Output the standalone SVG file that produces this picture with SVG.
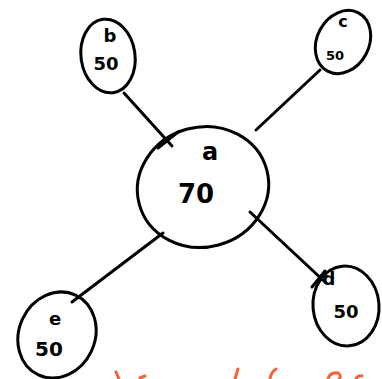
<svg xmlns="http://www.w3.org/2000/svg" width="382" height="379" viewBox="0 0 382 379">
<style>
.n{fill:none;stroke:#000;stroke-width:3;stroke-linecap:round}
.t{font-family:"DejaVu Sans",sans-serif;fill:#000;font-weight:bold;text-anchor:middle}
.o{fill:none;stroke:#f4623a;stroke-width:3;stroke-linecap:round}
</style>
<rect width="382" height="379" fill="#fff"/>
<g id="connectors">
<line class="n" x1="124" y1="93" x2="172" y2="146"/>
<line class="n" x1="320" y1="70" x2="256" y2="130"/>
<line class="n" x1="163" y1="233" x2="72" y2="302"/>
<line class="n" x1="250" y1="212" x2="326" y2="283"/>
<line class="n" x1="158" y1="148" x2="178" y2="132"/>
<line class="n" x1="312" y1="287" x2="325" y2="271"/>
</g>
<g id="b">
<ellipse class="n" cx="108" cy="56" rx="27" ry="37" transform="rotate(-8 108 56)"/>
<text class="t" x="110" y="42" font-size="18">b</text>
<text class="t" x="106" y="70" font-size="18">50</text>
</g>
<g id="c">
<ellipse class="n" cx="343" cy="42" rx="26" ry="33" transform="rotate(28 343 42)"/>
<text class="t" x="343" y="27" font-size="16">c</text>
<text class="t" x="335" y="60" font-size="13">50</text>
</g>
<g id="a">
<ellipse class="n" cx="203" cy="187" rx="66" ry="60" transform="rotate(-15 203 187)"/>
<text class="t" x="210" y="160" font-size="24">a</text>
<text class="t" x="196" y="203" font-size="26">70</text>
</g>
<g id="e">
<ellipse class="n" cx="57" cy="335" rx="38" ry="44" transform="rotate(25 57 335)"/>
<text class="t" x="55" y="325" font-size="18">e</text>
<text class="t" x="49" y="356" font-size="20">50</text>
</g>
<g id="d">
<ellipse class="n" cx="346" cy="306" rx="33" ry="40" transform="rotate(-5 346 306)"/>
<text class="t" x="329" y="285" font-size="18">d</text>
<text class="t" x="346" y="318" font-size="18">50</text>
</g>
<g id="footer">
<path class="o" d="M116 372 L119 379"/>
<path class="o" d="M140 378 L145 376"/>
<path class="o" d="M238 369 L235 379"/>
<path class="o" d="M276 369 Q271 372 270 379"/>
<path class="o" d="M328 379 Q330 372 338 373 Q342 376 339 379"/>
<path class="o" d="M356 379 Q358 375 362 376"/>
</g>
</svg>
